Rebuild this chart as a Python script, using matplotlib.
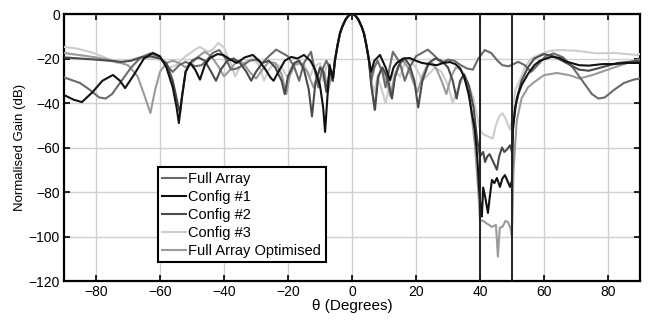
import matplotlib
matplotlib.use("Agg")
import matplotlib.pyplot as plt

plt.rcParams['font.family'] = ['Liberation Sans', 'DejaVu Sans']

# ---------------- data ----------------
theta_full = [-90, -88, -85, -82, -79, -77, -75, -72, -69, -66, -63, -60.5, -58, -56, -54, -52, -49, -47,
              -45.5, -43.5, -41.5, -39.5, -37.8, -36, -34, -32, -30, -28, -26, -23.7, -20, -18, -16.5,
              -15, -12.8, -10.5, -9.5, -8, -7, -6, -5.3, -4.5, -3.75, -3, -2, -1, 0,
              1, 2, 3, 3.75, 4.5, 5.3, 6, 7, 8, 9.5, 10.5, 12.8, 15, 16.5, 18, 20, 23.7, 26, 28, 30, 32,
              34, 36, 37.8, 39.5, 41.5, 43.5, 45.5, 47, 49, 52, 54, 56, 58, 60.5, 63, 66, 69, 72, 75, 77,
              79, 82, 85, 88, 90]
gain_full = [-28.5, -29.5, -31, -34, -37.5, -38, -36, -30, -24, -19.5, -17.7, -19, -23, -26, -23, -21.5, -23.5,
             -23, -21, -17.5, -16.2, -20, -25, -24.5, -23, -21, -20.5, -22, -19, -16, -19, -24, -30,
             -22, -17, -33, -26, -21, -24, -30, -20.7, -14, -8.7, -5.6, -2.5, -0.6, 0,
             -0.6, -2.5, -5.6, -8.7, -14, -20.7, -30, -24, -21, -26, -33, -17, -22, -30, -24, -19, -16, -19,
             -22, -20.5, -21, -23, -24.5, -25, -20, -16.2, -17.5, -21, -23, -23.5, -21.5, -23, -26, -23,
             -19, -17.7, -19.5, -24, -30, -36, -38, -37.5, -34, -31, -29.5, -29]

theta_c1 = [-90, -87, -84.4, -81, -78, -74.7, -72.5, -70.9, -68, -65, -62.2, -60, -58, -56, -54.8, -54.1, -53.2,
            -52, -50.6, -49, -47.5, -46, -44.4, -42, -40.3, -38, -36, -33.5, -31, -29, -27, -25.5, -24.5,
            -23, -21, -19, -17, -15, -13, -11.5, -10, -9, -8.4, -7.8, -7, -6, -5.3, -4.5, -3.75, -3, -2,
            -1, 0, 1, 2, 3, 3.75, 4.5, 5.3, 6, 7, 8.75, 10.5, 11.9, 13, 14, 16, 18, 20, 21.9, 24, 26.5,
            28.5, 30.6, 32.3, 33.75, 35, 36.5, 37.5, 38.4, 39.2, 39.8, 40.2, 40.6, 41, 41.6, 42.5, 43,
            43.75, 44.5, 45.3, 46.25, 47, 47.8, 48.6, 49.4, 50, 50.3, 51, 52, 53, 55, 57, 58.75, 62.4,
            65, 67, 71, 74, 78.4, 82, 86, 90]
gain_c1 = [-36.4, -38.5, -39.6, -35, -30, -27.4, -30, -33.3, -27, -20, -17.5, -19, -24, -33, -42, -49, -38,
           -26, -22, -25, -29.5, -23, -19.8, -18, -18.4, -20.5, -22, -19.5, -18.4, -21, -25, -28.5, -30,
           -26, -21, -19.3, -20, -18.4, -21, -25, -32, -42, -53, -40, -23, -29, -20.7, -14, -8.7, -5.6, -2.5,
           -0.6, 0, -0.6, -2.5, -5.6, -8.7, -14, -20.7, -26, -21, -18.4, -24, -29.7, -24, -22, -20, -19.8,
           -21, -22, -22.5, -23, -22, -21.6, -22.5, -24.3, -28, -36, -45, -52, -65, -80, -87, -91, -78,
           -82, -89.4, -83, -74.6, -76, -73.7, -77.7, -74, -72.4, -75, -77.7, -75, -52, -42, -36, -32,
           -27, -23, -21, -19.2, -19.8, -21.4, -23, -23.2, -22.5, -22.5, -22, -22]

theta_c2 = [-90, -85, -80, -76, -72, -69, -66, -63, -60, -58, -56, -54.5, -53.75, -53, -52, -50, -48, -46,
            -44, -42.5, -41, -39, -37, -35, -33, -31.5, -30, -28, -26, -24, -22, -21, -20, -18, -16.5, -15,
            -13.5, -12.5, -11.5, -10, -9, -8, -7.2, -6.5, -6, -5.3, -4.5, -3.75, -3, -2, -1, 0, 1, 2, 3,
            3.75, 4.5, 5.3, 6, 7.2, 8.2, 9.5, 11, 12.5, 13.5, 15, 16.5, 18, 19.5, 20.7, 22, 24, 26, 28, 30,
            31.5, 32.7, 33.8, 35, 36.5, 38, 39, 40, 41, 41.6, 42.3, 43, 44, 45.3, 46, 46.9, 47.6, 48.4,
            49.4, 50, 50.4, 51.5, 53, 55, 57, 60, 63, 67, 71, 74, 78, 83, 90]
gain_c2 = [-19.5, -20, -20.5, -21, -21.5, -21, -19.5, -19, -20, -22, -30, -40, -44.5, -36, -26, -21, -19.5,
           -21, -26, -30, -25, -21, -20, -22, -26, -30, -26, -22, -21, -24, -30, -36, -28, -22, -21, -25,
           -34, -46, -32, -24, -26, -35, -28, -26, -30, -20.7, -14, -8.7, -5.6, -2.5, -0.6, 0, -0.6, -2.5,
           -5.6, -8.7, -14, -20.7, -32, -43, -28, -24, -28, -38, -28, -22, -20, -23, -30, -42, -30, -22,
           -20, -21, -24, -30, -38, -30, -27, -32, -42, -55, -64, -62, -66.5, -64, -63, -66, -70, -64,
           -60, -62, -61, -59, -62, -50, -38, -30, -24, -20, -18, -19, -22, -25, -25.5, -24, -22, -21]

theta_c3 = [-90, -86, -82, -78, -75, -73.5, -71, -68, -65, -62, -59, -57, -55, -52, -49, -47.5, -45, -43.5,
            -41.8, -40, -38, -36.5, -35, -33, -31, -29, -27.5, -26, -24, -22, -20, -19, -17, -15, -13, -12,
            -10, -9, -8, -7, -6, -5.3, -4.5, -3.75, -3, -2, -1, 0, 1, 2, 3, 3.75, 4.5, 5.3, 6, 7, 8, 9.5,
            10.5, 12, 13.5, 15, 16.5, 18, 20, 22, 24, 26, 28, 30, 31.5, 33, 35, 36.5, 38, 39, 40, 41, 42.5,
            44, 45, 46, 47, 48, 49.4, 50, 51, 52.5, 54, 56, 59, 62, 65, 70, 76.5, 82, 89, 90]
gain_c3 = [-14.8, -15.5, -17, -19, -21, -22, -21.5, -20, -19.5, -20, -21, -24, -23, -19, -16, -14.8, -17,
           -16, -13, -15, -22, -28, -24, -21, -20, -23, -30, -25, -22, -24, -29, -24, -21, -23, -28, -24,
           -22, -30, -24, -22, -30, -20.7, -14, -8.7, -5.6, -2.5, -0.6, 0, -0.6, -2.5, -5.6, -8.7, -14,
           -20.7, -30, -35, -28, -35, -40, -30, -26, -28, -22, -20, -24, -30, -27, -24, -26, -32, -40, -34,
           -28, -32, -38, -45, -52, -54, -55, -56, -50, -46, -44.6, -47, -52, -48, -34, -29.7, -24, -20,
           -18, -16.5, -16.2, -16.5, -17.7, -17.5, -18.4, -18]

theta_opt = [-90, -85, -80, -76, -73.5, -70, -67, -65, -63, -61.5, -60, -58, -56, -54, -52, -50, -48, -46,
             -44, -42, -40, -38, -36, -34, -32, -30, -28, -26, -24, -22, -20.5, -19.5, -18, -16, -14, -12,
             -11, -9.5, -8.5, -7.5, -6.5, -6, -5.3, -4.5, -3.75, -3, -2, -1, 0, 1, 2, 3, 3.75, 4.5, 5.3, 6,
             7, 8, 9, 10.5, 12, 13, 14.5, 16, 17.5, 19, 20.5, 22, 23.5, 25, 26.5, 28, 29.5, 31, 32.5, 34,
             35.5, 37, 38.5, 39.5, 40, 41, 42, 43.75, 45, 45.6, 46.2, 47, 48, 48.75, 49.5, 50, 50.5, 51.5,
             53, 55, 56.6, 60, 64, 68, 71, 75, 80, 85, 89, 90]
gain_opt = [-17.5, -18.5, -19.5, -20.5, -21.5, -23, -28, -36, -44.5, -34, -26, -22, -21, -22, -24, -22, -19,
            -17, -19, -23, -28, -25, -21, -22, -26, -29, -25, -21.5, -22, -27, -36, -28, -23, -22, -26, -33,
            -28, -24, -27, -35, -28, -30, -20.7, -14, -8.7, -5.6, -2.5, -0.6, 0, -0.6, -2.5, -5.6, -8.7, -14,
            -20.7, -30, -43, -30, -25, -28, -37, -30, -23, -21, -24, -30, -35, -28, -23, -22, -25, -30, -36,
            -28, -24, -25, -30, -40, -60, -80, -92.6, -93, -94, -95.7, -94.8, -109, -96, -95.7, -93, -93.5,
            -96, -100, -70, -48, -38, -33, -31, -27.5, -26.5, -27.5, -29, -27.5, -25, -22.5, -20.7, -20.5]

series_labels = ["Full Array", "Config #1", "Config #2", "Config #3", "Full Array Optimised"]
series_colors = ["#6a6a6a", "#111111", "#4a4a4a", "#cdcdcd", "#9a9a9a"]
notch_edges = [40, 50]
x_ticks = [-80, -60, -40, -20, 0, 20, 40, 60, 80]
y_ticks = [0, -20, -40, -60, -80, -100, -120]

# ---------------- plot ----------------
fig = plt.figure(figsize=(6.51, 3.22), dpi=100)
ax = fig.add_axes([0.0983, 0.1273, 0.8847, 0.8292])

series = [(theta_full, gain_full), (theta_c1, gain_c1), (theta_c2, gain_c2),
          (theta_c3, gain_c3), (theta_opt, gain_opt)]
order = [3, 4, 0, 2, 1]
lines = {}
for i in order:
    th, g = series[i]
    ln, = ax.plot(th, g, color=series_colors[i], lw=1.5, label=series_labels[i], zorder=3 + order.index(i))
    lines[i] = ln

for xe in notch_edges:
    ax.axvline(xe, color="#222222", lw=1.4, zorder=10)

ax.set_xlim(-90, 90)
ax.set_ylim(-120, 0)
ax.set_xticks(x_ticks)
ax.set_yticks(y_ticks)
ax.grid(True, color="#d0d0d0", lw=1.0)
ax.set_axisbelow(True)
ax.tick_params(direction="in", top=True, right=True, labelsize=10, length=4, width=1.2, pad=3)
for sp in ax.spines.values():
    sp.set_linewidth(1.6)

ax.set_xlabel("θ (Degrees)", fontsize=11, labelpad=0)
ax.set_ylabel("Normalised Gain (dB)", fontsize=9.5, labelpad=2)

leg = ax.legend([lines[i] for i in range(5)], series_labels, loc="lower left",
                bbox_to_anchor=(0.163, 0.07), fontsize=10.5, handlelength=1.6, handletextpad=0.2,
                labelspacing=0.28, borderpad=0.3, borderaxespad=0, fancybox=False, framealpha=1)
leg.get_frame().set_edgecolor("black")
leg.get_frame().set_linewidth(1.5)
leg.set_zorder(20)

fig.savefig("out.png", dpi=100)
